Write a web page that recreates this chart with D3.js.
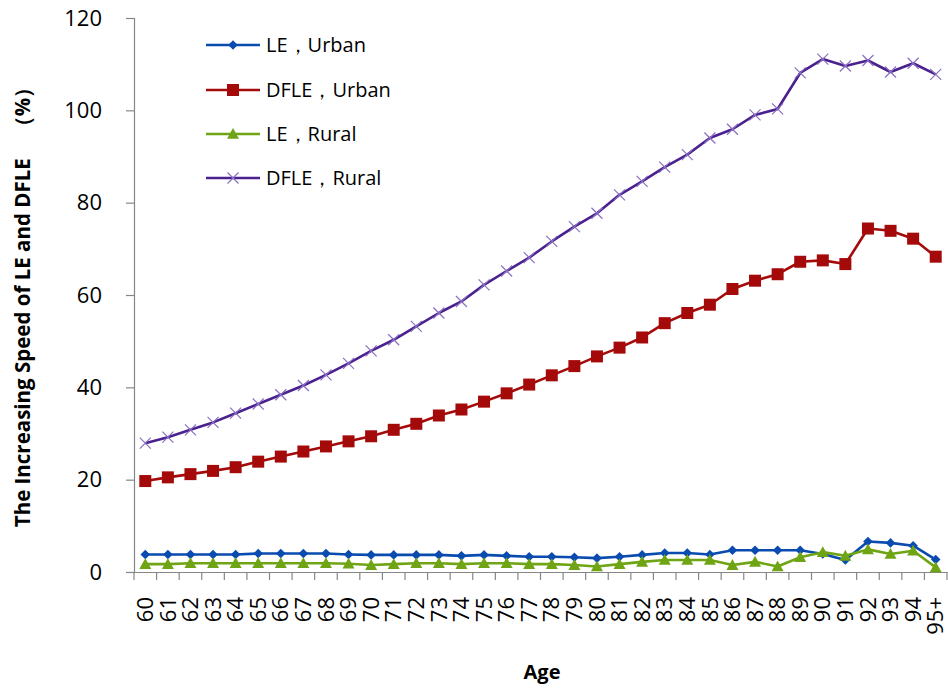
<!DOCTYPE html>
<html><head><meta charset="utf-8">
<script src="https://cdn.jsdelivr.net/npm/d3@7"></script>
<style>body{margin:0;background:#fff;}svg{display:block;font-family:"Open Sans",sans-serif;}</style>
</head><body>
<svg id="c" width="948" height="692"></svg>
<script>
const ages = ["60","61","62","63","64","65","66","67","68","69","70","71","72","73","74","75","76","77","78","79","80","81","82","83","84","85","86","87","88","89","90","91","92","93","94","95+"];
const leUrban   = [3.8,3.8,3.8,3.8,3.8,4.0,4.0,4.0,4.0,3.8,3.7,3.7,3.7,3.7,3.5,3.7,3.5,3.3,3.3,3.2,3.0,3.3,3.7,4.1,4.1,3.8,4.7,4.7,4.7,4.7,3.9,2.6,6.6,6.3,5.7,2.7];
const dfleUrban = [19.7,20.5,21.2,21.9,22.7,23.9,25.0,26.1,27.2,28.3,29.4,30.8,32.1,33.9,35.2,36.9,38.7,40.6,42.6,44.6,46.7,48.6,50.8,53.9,56.1,57.9,61.3,63.1,64.5,67.2,67.5,66.7,74.4,73.9,72.2,68.3];
const leRural   = [1.7,1.7,1.9,1.9,1.9,1.9,1.9,1.9,1.9,1.8,1.5,1.7,1.9,1.9,1.7,1.9,1.9,1.7,1.7,1.5,1.2,1.7,2.2,2.6,2.6,2.6,1.5,2.2,1.2,3.2,4.3,3.5,4.9,3.9,4.6,1.0];
const dfleRural = [27.9,29.2,30.8,32.4,34.4,36.4,38.4,40.4,42.7,45.2,47.9,50.3,53.2,56.1,58.6,62.2,65.2,68.1,71.6,74.8,77.7,81.7,84.6,87.7,90.4,94.0,95.9,99.0,100.3,108.1,111.1,109.6,110.8,108.3,110.2,107.8];
const yTicks = [0,20,40,60,80,100,120];
const seriesNames = ["LE\uFF0CUrban","DFLE\uFF0CUrban","LE\uFF0CRural","DFLE\uFF0CRural"];

const series = [
  {name: seriesNames[0], values: leUrban,   color: "#0A4BB0", marker: "diamond"},
  {name: seriesNames[1], values: dfleUrban, color: "#A50A0A", marker: "square"},
  {name: seriesNames[2], values: leRural,   color: "#6FA514", marker: "triangle"},
  {name: seriesNames[3], values: dfleRural, color: "#4A218F", marker: "cross"}
];

const svg = d3.select("#c");
const L = 134, R = 947, T = 18, B = 572;
const x = d3.scaleBand().domain(ages).range([L, R]).padding(0);
const y = d3.scaleLinear().domain([0, 120]).range([B, T]);
const axisColor = "#868686";

// y axis
const gy = svg.append("g").attr("transform", `translate(${L},0)`)
  .call(d3.axisLeft(y).tickValues(yTicks).tickSize(8).tickPadding(24));
gy.select(".domain").attr("stroke", axisColor).attr("stroke-width", 1.2);
gy.selectAll(".tick line").attr("stroke", axisColor).attr("stroke-width", 1.2);
gy.selectAll(".tick text").attr("font-size", 22).attr("fill", "#000").attr("font-family", "Open Sans");

// x axis
const gx = svg.append("g").attr("transform", `translate(0,${B})`)
  .call(d3.axisBottom(x).tickSize(0).tickPadding(0));
gx.select(".domain").attr("stroke", axisColor).attr("stroke-width", 1.2);
gx.selectAll(".tick text")
  .attr("font-size", 22).attr("fill", "#000").attr("font-family", "Open Sans")
  .attr("transform", "rotate(-90)")
  .attr("text-anchor", "end").attr("x", -25).attr("y", 0).attr("dy", "0.35em");
// tick marks at category boundaries
const boundaries = ages.map(a => x(a)).concat([x(ages[ages.length-1]) + x.bandwidth()]);
svg.append("g").selectAll("line").data(boundaries).join("line")
  .attr("x1", d => d).attr("x2", d => d).attr("y1", B).attr("y2", B + 8)
  .attr("stroke", axisColor).attr("stroke-width", 1.2);

const cx = a => x(a) + x.bandwidth() / 2;

function drawMarker(g, type, color, px, py) {
  if (type === "diamond") {
    const s = 4.8;
    g.append("path").attr("d", `M${px},${py-s}L${px+s},${py}L${px},${py+s}L${px-s},${py}Z`).attr("fill", color);
  } else if (type === "square") {
    const s = 6;
    g.append("rect").attr("x", px-s).attr("y", py-s).attr("width", 2*s).attr("height", 2*s).attr("fill", color);
  } else if (type === "triangle") {
    const s = 6;
    g.append("path").attr("d", `M${px},${py-s}L${px+s},${py+s*0.8}L${px-s},${py+s*0.8}Z`).attr("fill", color);
  } else {
    const s = 5.5;
    g.append("path").attr("d", `M${px-s},${py-s}L${px+s},${py+s}M${px-s},${py+s}L${px+s},${py-s}`)
      .attr("stroke", "#8a6fc2").attr("stroke-width", 1.2).attr("fill", "none");
  }
}

const line = d3.line().x((d, i) => cx(ages[i])).y(d => y(d));
series.forEach(s => {
  const g = svg.append("g");
  g.append("path").datum(s.values).attr("d", line).attr("fill", "none")
    .attr("stroke", s.color).attr("stroke-width", 2.6).attr("stroke-linejoin", "round");
  s.values.forEach((v, i) => drawMarker(g, s.marker, s.color, cx(ages[i]), y(v)));
});

// legend
const legYs = [45, 90, 134, 178];
series.forEach((s, i) => {
  const g = svg.append("g");
  const ly = legYs[i];
  g.append("line").attr("x1", 206).attr("x2", 260).attr("y1", ly).attr("y2", ly)
    .attr("stroke", s.color).attr("stroke-width", 2.6);
  drawMarker(g, s.marker, s.color, 233, ly);
  g.append("text").attr("x", 266).attr("y", ly).attr("dy", "0.35em")
    .attr("font-size", 20).attr("fill", "#000").text(s.name);
});

// axis titles
svg.append("text").attr("transform", `translate(30,302) rotate(-90)`)
  .attr("text-anchor", "middle").attr("font-size", 20.5).attr("font-weight", "bold").attr("fill", "#000")
  .text("The Increasing Speed of LE and DFLE\u3000\uFF08%\uFF09");
svg.append("text").attr("x", 542).attr("y", 679).attr("text-anchor", "middle")
  .attr("font-size", 20).attr("font-weight", "bold").attr("fill", "#000").text("Age");
</script>
</body></html>
